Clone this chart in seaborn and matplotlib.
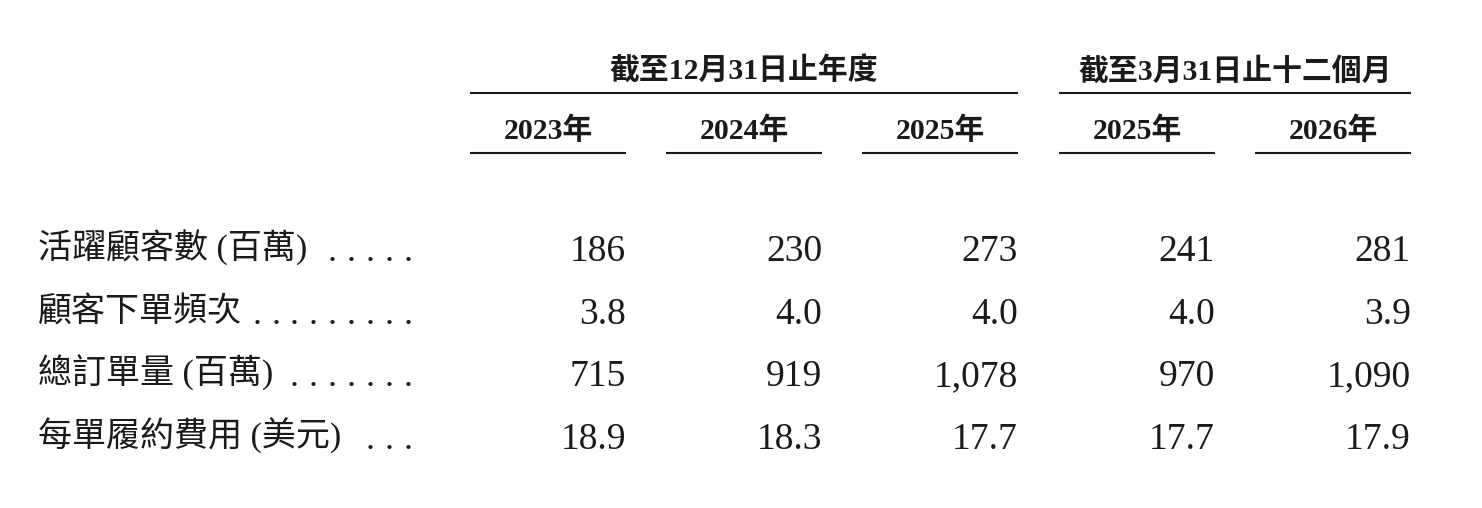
import matplotlib
matplotlib.use("Agg")
import matplotlib.pyplot as plt
import seaborn as sns
import pandas as pd

# ---- data ----
group_headers = ["截至12月31日止年度", "截至3月31日止十二個月"]
years = ["2023年", "2024年", "2025年", "2025年", "2026年"]
row_labels = ["活躍顧客數 (百萬)", "顧客下單頻次", "總訂單量 (百萬)", "每單履約費用 (美元)"]
active_customers = [186, 230, 273, 241, 281]
order_frequency = [3.8, 4.0, 4.0, 4.0, 3.9]
total_orders = [715, 919, 1078, 970, 1090]
fulfillment_cost = [18.9, 18.3, 17.7, 17.7, 17.9]
leader_dots = [5, 9, 7, 3]

df = pd.DataFrame([active_customers, order_frequency, total_orders, fulfillment_cost],
                  index=row_labels, columns=range(len(years)))
is_float = [False, True, False, True]

sns.set_theme(style="white")
plt.rcParams["font.family"] = ["Liberation Serif", "Noto Sans CJK TC", "DejaVu Sans"]

W, H = 1482, 508
fig = plt.figure(figsize=(W / 100, H / 100), dpi=100)
ax = fig.add_axes([0, 0, 1, 1])
ax.set_xlim(0, W)
ax.set_ylim(H, 0)
ax.axis("off")

ink = "#1a1a1a"
col_left = [470, 666, 862, 1059, 1255]
col_w = 156
group_spans = [(470, 1018), (1059, 1411)]

# group headers
for (x0, x1), txt in zip(group_spans, group_headers):
    ax.text((x0 + x1) / 2, 80, txt, ha="center", va="baseline",
            fontsize=21.5, fontweight="bold", color=ink)
    ax.plot([x0, x1], [93, 93], color=ink, lw=1.5, solid_capstyle="butt")

# year headers
for x0, yr in zip(col_left, years):
    ax.text(x0 + col_w / 2, 139, yr, ha="center", va="baseline",
            fontsize=21.5, fontweight="bold", color=ink)
    ax.plot([x0, x0 + col_w], [152.5, 152.5], color=ink, lw=1.5, solid_capstyle="butt")

# rows
row_base = [261, 324, 386, 449]
for r, label in enumerate(df.index):
    yb = row_base[r]
    ax.text(38, yb - 2, label, ha="left", va="baseline", fontsize=24.5, color=ink)
    for k in range(leader_dots[r]):
        ax.text(408 - k * 18.9, yb, ".", ha="center", va="baseline",
                fontsize=26, color=ink)
    for c in range(len(years)):
        v = df.iloc[r, c]
        s = f"{v:.1f}" if is_float[r] else f"{int(v):,}"
        ax.text(col_left[c] + col_w, yb, s, ha="right", va="baseline",
                fontsize=27, color=ink)

fig.savefig("out.png", dpi=100, facecolor="white")
